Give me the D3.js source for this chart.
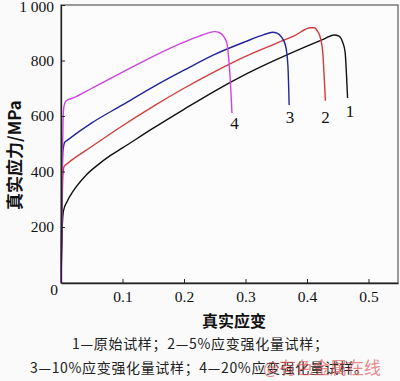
<!DOCTYPE html>
<html>
<head>
<meta charset="utf-8">
<script src="https://cdn.jsdelivr.net/npm/d3@7"></script>
<style>
  body { margin: 0; background: #fafafa; }
  svg { display: block; }
</style>
</head>
<body>
<div id="chart"></div>
<script>
// true strain / true stress (MPa)
const strain1 = [0, 0.002, 0.004, 0.01, 0.02, 0.04, 0.06, 0.08, 0.1, 0.15, 0.2, 0.25, 0.3, 0.35, 0.4, 0.43, 0.444, 0.452, 0.458, 0.462, 0.464, 0.466];
const stress1 = [0, 200, 258, 292, 330, 385, 424, 457, 485, 556, 624, 690, 750, 803, 852, 880, 892, 888, 866, 830, 760, 665];
const strain2 = [0, 0.003, 0.005, 0.01, 0.05, 0.1, 0.15, 0.2, 0.25, 0.3, 0.35, 0.38, 0.406, 0.412, 0.417, 0.422, 0.426, 0.428, 0.43];
const stress2 = [0, 380, 418, 428, 490, 565, 635, 700, 760, 815, 862, 890, 918, 918, 906, 880, 820, 740, 655];
const strain3 = [0, 0.003, 0.006, 0.01, 0.05, 0.1, 0.15, 0.2, 0.25, 0.3, 0.33, 0.344, 0.352, 0.358, 0.365, 0.369, 0.371];
const stress3 = [0, 470, 505, 512, 575, 640, 705, 765, 822, 868, 893, 902, 898, 886, 855, 780, 640];
const strain4 = [0, 0.004, 0.006, 0.009, 0.02, 0.05, 0.1, 0.15, 0.2, 0.225, 0.25, 0.258, 0.265, 0.27, 0.273, 0.276, 0.278];
const stress4 = [0, 620, 645, 656, 665, 700, 758, 815, 866, 888, 904, 900, 885, 860, 800, 700, 611];

const curveNames = ["1", "2", "3", "4"];
const curveColors = ["#111111", "#d23c3c", "#23239c", "#cc44dc"];
const labelPos = [[0.470, 596], [0.430, 575], [0.3725, 575], [0.282, 553]]; // label anchor in data units

const xTicks = [0.1, 0.2, 0.3, 0.4, 0.5];
const yTicks = [200, 400, 600, 800, 1000];
const yTickLabels = ["200", "400", "600", "800", "1 000"];

const caption1 = "1—原始试样；2—5%应变强化量试样；";
const caption2 = "3—10%应变强化量试样；4—20%应变强化量试样。";

const W = 400, H = 381;
const margin = {top: 5, right: 2, bottom: 98, left: 61};
const width = W - margin.left - margin.right;
const height = H - margin.top - margin.bottom;
const serif = "'Liberation Serif', 'DejaVu Serif', serif";
const cjk = "'Noto Sans CJK SC', sans-serif";

var xScale = d3.scaleLinear().domain([0, 0.548]).range([0, width]);
var yScale = d3.scaleLinear().domain([0, 1000]).range([height - 0.5, 0]);

var svgRoot = d3.select("#chart").append("svg")
    .attr("width", W)
    .attr("height", H);

var svg = svgRoot.append("g")
    .attr("transform", "translate(" + margin.left + "," + margin.top + ")");

// plot background + frame (top/right grey)
svg.append("rect")
    .attr("width", width)
    .attr("height", height)
    .attr("fill", "#fcfcfc")
    .attr("stroke", "#666")
    .attr("stroke-width", 1.3);

var curves = [
    d3.zip(strain1, stress1),
    d3.zip(strain2, stress2),
    d3.zip(strain3, stress3),
    d3.zip(strain4, stress4)
];

var line = d3.line()
    .x(function(d) { return xScale(d[0]); })
    .y(function(d) { return yScale(d[1]); })
    .curve(d3.curveMonotoneX);

svg.selectAll(".curve")
    .data(curves)
    .enter().append("path")
    .attr("class", "curve")
    .attr("d", line)
    .attr("fill", "none")
    .attr("stroke", function(d, i) { return curveColors[i]; })
    .attr("stroke-width", 1.4);

// axes, ticks inward
var xAxis = d3.axisBottom(xScale).tickValues(xTicks).tickSizeInner(-4).tickSizeOuter(0)
    .tickPadding(8).tickFormat(d3.format(".1f"));
var yAxis = d3.axisLeft(yScale).tickValues(yTicks).tickSizeInner(-4).tickSizeOuter(0)
    .tickPadding(7).tickFormat(function(d, i) { return yTickLabels[i]; });

var gx = svg.append("g")
    .attr("transform", "translate(0," + height + ")")
    .call(xAxis);
var gy = svg.append("g").call(yAxis);

[gx, gy].forEach(function(g) {
    g.attr("font-family", serif);
    g.select(".domain").attr("stroke", "#222").attr("stroke-width", 1.3);
    g.selectAll(".tick line").attr("stroke", "#222");
    g.selectAll(".tick text")
        .style("font-family", serif)
        .style("font-size", "15.5px")
        .attr("fill", "#111");
});
gy.selectAll(".tick text").filter(function(d) { return d === 1000; }).attr("dy", "0.45em");

// origin label
svg.append("text")
    .attr("x", -3)
    .attr("y", height + 12)
    .attr("text-anchor", "end")
    .style("font-family", serif)
    .style("font-size", "15.5px")
    .attr("fill", "#111")
    .text("0");

// curve labels
svg.selectAll(".clabel")
    .data(curveNames)
    .enter().append("text")
    .attr("class", "clabel")
    .attr("x", function(d, i) { return xScale(labelPos[i][0]); })
    .attr("y", function(d, i) { return yScale(labelPos[i][1]); })
    .attr("text-anchor", "middle")
    .style("font-family", serif)
    .style("font-size", "17px")
    .attr("fill", "#111")
    .text(function(d) { return d; });

// axis titles
svg.append("text")
    .attr("transform", "translate(" + (-46) + "," + (150) + ") rotate(-90)")
    .attr("text-anchor", "middle")
    .attr("dy", "0.35em")
    .style("font-family", cjk)
    .style("font-size", "17px")
    .style("font-weight", "bold")
    .attr("fill", "#111")
    .text("真实应力/MPa");

svgRoot.append("text")
    .attr("x", 234)
    .attr("y", 327)
    .attr("text-anchor", "middle")
    .style("font-family", cjk)
    .style("font-size", "16px")
    .style("font-weight", "bold")
    .attr("fill", "#111")
    .text("真实应变");

// caption
svgRoot.append("text")
    .attr("x", 72)
    .attr("y", 349)
    .attr("textLength", 256)
    .style("font-family", cjk)
    .style("font-size", "14px")
    .attr("fill", "#222")
    .text(caption1);

svgRoot.append("text")
    .attr("x", 30)
    .attr("y", 373)
    .attr("textLength", 338)
    .style("font-family", cjk)
    .style("font-size", "14px")
    .attr("fill", "#222")
    .text(caption2);

// watermark
svgRoot.append("text")
    .attr("x", 263)
    .attr("y", 374)
    .style("font-family", cjk)
    .style("font-size", "17px")
    .attr("fill", "#e05a5a")
    .attr("opacity", 0.7)
    .text("@有色金属在线");
</script>
</body>
</html>
